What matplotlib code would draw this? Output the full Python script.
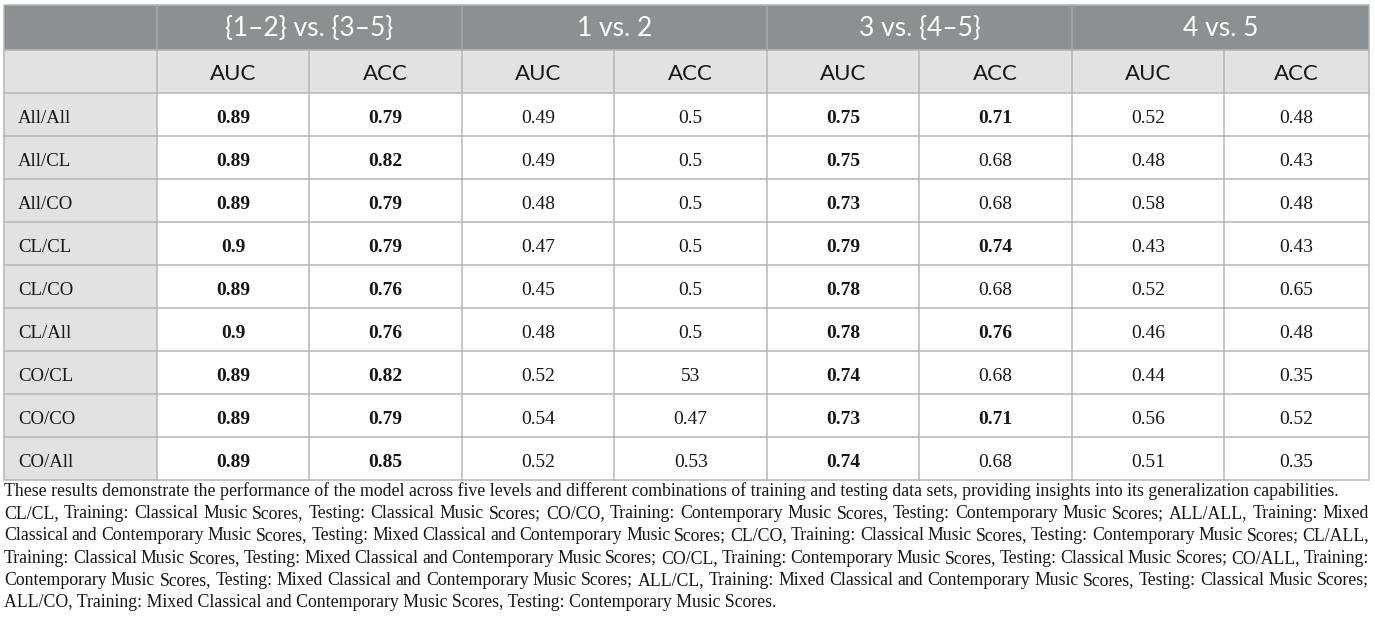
import matplotlib
matplotlib.use("Agg")
import matplotlib.pyplot as plt
from matplotlib.patches import Rectangle
from matplotlib.font_manager import FontProperties

# donnees du tableau
row_labels = ["All/All", "All/CL", "All/CO", "CL/CL", "CL/CO", "CL/All", "CO/CL", "CO/CO", "CO/All"]
groups = ["{1\u20132} vs. {3\u20135}", "1 vs. 2", "3 vs. {4\u20135}", "4 vs. 5"]
metrics = ["AUC", "ACC"]

auc_12_35 = ["0.89", "0.89", "0.89", "0.9", "0.89", "0.9", "0.89", "0.89", "0.89"]
acc_12_35 = ["0.79", "0.82", "0.79", "0.79", "0.76", "0.76", "0.82", "0.79", "0.85"]
auc_1_2 = ["0.49", "0.49", "0.48", "0.47", "0.45", "0.48", "0.52", "0.54", "0.52"]
acc_1_2 = ["0.5", "0.5", "0.5", "0.5", "0.5", "0.5", "53", "0.47", "0.53"]
auc_3_45 = ["0.75", "0.75", "0.73", "0.79", "0.78", "0.78", "0.74", "0.73", "0.74"]
acc_3_45 = ["0.71", "0.68", "0.68", "0.74", "0.68", "0.76", "0.68", "0.71", "0.68"]
auc_4_5 = ["0.52", "0.48", "0.58", "0.43", "0.52", "0.46", "0.44", "0.56", "0.51"]
acc_4_5 = ["0.48", "0.43", "0.48", "0.43", "0.65", "0.48", "0.35", "0.52", "0.35"]

# valeurs en gras (meilleurs resultats)
bold_12_35 = [True] * 9
bold_auc_3_45 = [True] * 9
bold_acc_3_45 = [True, False, False, True, False, True, False, True, False]

columns = [auc_12_35, acc_12_35, auc_1_2, acc_1_2, auc_3_45, acc_3_45, auc_4_5, acc_4_5]
bold_cols = [bold_12_35, bold_12_35, [False] * 9, [False] * 9,
             bold_auc_3_45, bold_acc_3_45, [False] * 9, [False] * 9]

footnote_lines = [
    "These results demonstrate the performance of the model across five levels and different combinations of training and testing data sets, providing insights into its generalization capabilities.",
    "CL/CL, Training: Classical Music Scores, Testing: Classical Music Scores; CO/CO, Training: Contemporary Music Scores, Testing: Contemporary Music Scores; ALL/ALL, Training: Mixed",
    "Classical and Contemporary Music Scores, Testing: Mixed Classical and Contemporary Music Scores; CL/CO, Training: Classical Music Scores, Testing: Contemporary Music Scores; CL/ALL,",
    "Training: Classical Music Scores, Testing: Mixed Classical and Contemporary Music Scores; CO/CL, Training: Contemporary Music Scores, Testing: Classical Music Scores; CO/ALL, Training:",
    "Contemporary Music Scores, Testing: Mixed Classical and Contemporary Music Scores; ALL/CL, Training: Mixed Classical and Contemporary Music Scores, Testing: Classical Music Scores;",
    "ALL/CO, Training: Mixed Classical and Contemporary Music Scores, Testing: Contemporary Music Scores.",
]

# mise en page (en pixels)
W, H = 1375, 637
left, top = 4, 5
col_w = [153, 152.5, 152.5, 152.5, 152.5, 152.5, 152.5, 152, 145]
h_head1, h_head2, h_row = 45, 43, 43
dark = "#8b9193"
light = "#e1e2e1"
grid = "#b3b6b6"
ink = "#161616"
sans = "Lato"
serif = "Liberation Serif"

fig = plt.figure(figsize=(W / 100, H / 100), dpi=100)
ax = fig.add_axes([0, 0, 1, 1])
ax.set_xlim(0, W)
ax.set_ylim(H, 0)
ax.axis("off")

xs = [left]
for w in col_w:
    xs.append(xs[-1] + w)
right = xs[-1]
y1 = top + h_head1
y2 = y1 + h_head2
ys = [y2 + i * h_row for i in range(len(row_labels) + 1)]
bottom = ys[-1]

# fonds
ax.add_patch(Rectangle((left, top), right - left, h_head1, color=dark, lw=0))
ax.add_patch(Rectangle((left, y1), right - left, h_head2, color=light, lw=0))
ax.add_patch(Rectangle((left, y2), col_w[0], bottom - y2, color=light, lw=0))

# lignes
lw = 1.1
for y in [y1, y2] + ys[1:-1]:
    ax.plot([left, right], [y, y], color=grid, lw=lw)
for x in xs[1:-1]:
    ax.plot([x, x], [y1, bottom], color=grid, lw=lw)
for g in range(4):
    x = xs[1 + 2 * g]
    ax.plot([x, x], [top, y1], color="#a4a9ab", lw=lw)
ax.add_patch(Rectangle((left, top), right - left, bottom - top, fill=False, ec=grid, lw=lw))

# en-tetes
for g, name in enumerate(groups):
    xc = (xs[1 + 2 * g] + xs[3 + 2 * g]) / 2
    ax.text(xc, top + h_head1 / 2 + 1, name, color="white", fontsize=19, family=sans,
            ha="center", va="center")
    for m, met in enumerate(metrics):
        j = 1 + 2 * g + m
        ax.text((xs[j] + xs[j + 1]) / 2, y1 + h_head2 / 2 + 2, met, color=ink,
                fontsize=16, family=sans, ha="center", va="center")

# corps du tableau
for i, lab in enumerate(row_labels):
    yc = (ys[i] + ys[i + 1]) / 2 + 4
    ax.text(left + 14, yc, lab, fontsize=13.5, family=serif, ha="left", va="center", color=ink)
    for j, col in enumerate(columns):
        ax.text((xs[j + 1] + xs[j + 2]) / 2, yc, col[i], fontsize=14, family=serif,
                fontweight="bold" if bold_cols[j][i] else "normal",
                ha="center", va="center", color=ink)

# note de bas de tableau, justifiee
renderer = fig.canvas.get_renderer()
fp = FontProperties(family=serif, size=12.8)
line_y0, line_dy = 496, 22.2
for k, line in enumerate(footnote_lines):
    yb = line_y0 + k * line_dy
    justify = 0 < k < len(footnote_lines) - 1
    if not justify:
        ax.text(left, yb, line, fontproperties=fp, ha="left", va="baseline", color=ink)
        continue
    words = line.split(" ")
    widths = [renderer.get_text_width_height_descent(wd, fp, ismath=False)[0] for wd in words]
    gap = (right - left - sum(widths)) / (len(words) - 1)
    x = left
    for wd, w in zip(words, widths):
        ax.text(x, yb, wd, fontproperties=fp, ha="left", va="baseline", color=ink)
        x += w + gap

fig.savefig("out.png", dpi=100)
